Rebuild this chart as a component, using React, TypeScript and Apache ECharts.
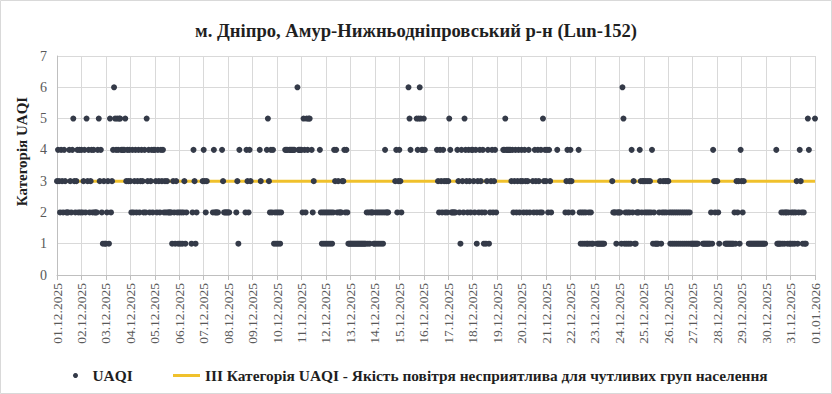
import React, { useEffect, useRef } from "react";
import * as echarts from "echarts";

const chartTitle = "м. Дніпро, Амур-Нижньодніпровський р-н (Lun-152)";
const yAxisName = "Категорія UAQI";
const uaqiName = "UAQI";
const thresholdName =
  "III Категорія UAQI - Якість повітря несприятлива для чутливих груп населення";

const dayLabels = [
  "01.12.2025", "02.12.2025", "03.12.2025", "04.12.2025", "05.12.2025",
  "06.12.2025", "07.12.2025", "08.12.2025", "09.12.2025", "10.12.2025",
  "11.12.2025", "12.12.2025", "13.12.2025", "14.12.2025", "15.12.2025",
  "16.12.2025", "17.12.2025", "18.12.2025", "19.12.2025", "20.12.2025",
  "21.12.2025", "22.12.2025", "23.12.2025", "24.12.2025", "25.12.2025",
  "26.12.2025", "27.12.2025", "28.12.2025", "29.12.2025", "30.12.2025",
  "31.12.2025", "01.01.2026",
];

// Hourly UAQI category per day (00:00 .. 23:00), "-" = no measurement
const uaqiByDay = [
  "343243243222432453234242", // 01.12
  "423425342342422245342131", // 02.12
  "123152346545455444453434", // 03.12
  "324234234234324253423424", // 04.12
  "432432434232322221321321", // 05.12
  "21212312----124312-----3", // 06.12
  "4323-----242222---432222", // 07.12
  "22------2314-----243243-", // 08.12
  "-------43-----4532424121", // 09.12
  "21212---444-444444--6444", // 10.12
  "425425455-423-----421212", // 11.12
  "121212124342322233424211", // 12.12
  "111111111111111121212221", // 13.12
  "12121212124222------3423", // 14.12
  "432------654-----5456544", // 15.12
  "54-----------43243243232", // 16.12
  "35422222-432143254324324", // 17.12
  "432413243241213412342342", // 18.12
  "------445444443423423423", // 19.12
  "432432342--3243243242534", // 20.12
  "342432-----4-------23423", // 21.12
  "432-----421212121121211-", // 22.12
  "--11111111-------3222122", // 23.12
  "221651212121423112224323", // 24.12
  "323232324121111231232323", // 25.12
  "321212121212121212121211", // 26.12
  "111111----11111111214323", // 27.12
  "321-----1111111112132314", // 28.12
  "323----11111111111111111", // 29.12
  "----------41111212122121", // 30.12
  "1212123124321211-54-----", // 31.12
  "5", // 01.01.2026 00:00
];

const thresholdValue = 3;
const yMin = 0;
const yMax = 7;

const FONT = "Liberation Serif, Times New Roman, serif";

export default function App() {
  const ref = useRef<HTMLDivElement>(null);

  useEffect(() => {
    if (!ref.current) return;
    const chart = echarts.init(ref.current, null, { renderer: "svg" });

    const points: [number, number][] = [];
    uaqiByDay.forEach((day, d) => {
      for (let h = 0; h < day.length; h++) {
        const c = day[h];
        if (c !== "-") points.push([d * 24 + h, Number(c)]);
      }
    });
    const xMax = (dayLabels.length - 1) * 24;

    const legendText = { fontFamily: FONT, fontWeight: "bold", fontSize: 15.4, color: "#1f1f1f" };

    chart.setOption({
      animation: false,
      backgroundColor: "#ffffff",
      textStyle: { fontFamily: FONT },
      title: {
        text: chartTitle,
        left: "center",
        top: 16,
        textStyle: {
          fontFamily: FONT,
          fontWeight: "bold",
          fontSize: 18.6,
          color: "#1f1f1f",
        },
      },
      legend: [
        {
          data: [{ name: uaqiName, icon: "circle" }],
          left: 73,
          top: 368,
          padding: 0,
          itemWidth: 24,
          itemHeight: 5,
          selectedMode: false,
          textStyle: legendText,
        },
        {
          data: [{ name: thresholdName, icon: "rect" }],
          left: 173,
          top: 368,
          padding: 0,
          itemWidth: 27,
          itemHeight: 3,
          selectedMode: false,
          textStyle: legendText,
        },
      ],
      graphic: [
        {
          type: "rect",
          shape: { x: 0.5, y: 0.5, width: 831, height: 393 },
          style: { fill: "none", stroke: "#d9d9d9", lineWidth: 1 },
          silent: true,
        },
      ],
      grid: { left: 57, right: 17, top: 56, bottom: 119, containLabel: false },
      xAxis: {
        type: "value",
        min: 0,
        max: xMax,
        interval: 24,
        axisLine: { show: true, lineStyle: { color: "#bfbfbf" } },
        axisTick: { show: true, length: 5, lineStyle: { color: "#bfbfbf" } },
        splitLine: { show: true, lineStyle: { color: "#d9d9d9" } },
        axisLabel: {
          rotate: 90,
          margin: 8,
          fontFamily: FONT,
          fontSize: 13.5,
          color: "#595959",
          formatter: (v: number) => dayLabels[Math.round(v / 24)] ?? "",
        },
      },
      yAxis: {
        type: "value",
        min: yMin,
        max: yMax,
        interval: 1,
        name: yAxisName,
        nameLocation: "middle",
        nameGap: 27,
        nameTextStyle: {
          fontFamily: FONT,
          fontWeight: "bold",
          fontSize: 15,
          color: "#1f1f1f",
          padding: [0, 0, 0, 28],
        },
        axisLine: { show: true, lineStyle: { color: "#bfbfbf" } },
        axisTick: { show: false },
        splitLine: { show: true, lineStyle: { color: "#d9d9d9" } },
        axisLabel: { fontFamily: FONT, fontSize: 14, color: "#595959", margin: 10 },
      },
      series: [
        {
          name: thresholdName,
          type: "line",
          data: [
            [0, thresholdValue],
            [xMax, thresholdValue],
          ],
          color: "#f0c12c",
          lineStyle: { width: 3, color: "#f0c12c" },
          symbol: "none",
          z: 2,
        },
        {
          name: uaqiName,
          type: "scatter",
          data: points,
          symbol: "circle",
          symbolSize: 6,
          color: "#343a48",
          itemStyle: { color: "#343a48", opacity: 1 },
          z: 3,
        },
      ],
    });

    return () => chart.dispose();
  }, []);

  return (
    <div
      ref={ref}
      style={{ position: "absolute", left: 0, top: 0, width: 832, height: 394 }}
    />
  );
}
